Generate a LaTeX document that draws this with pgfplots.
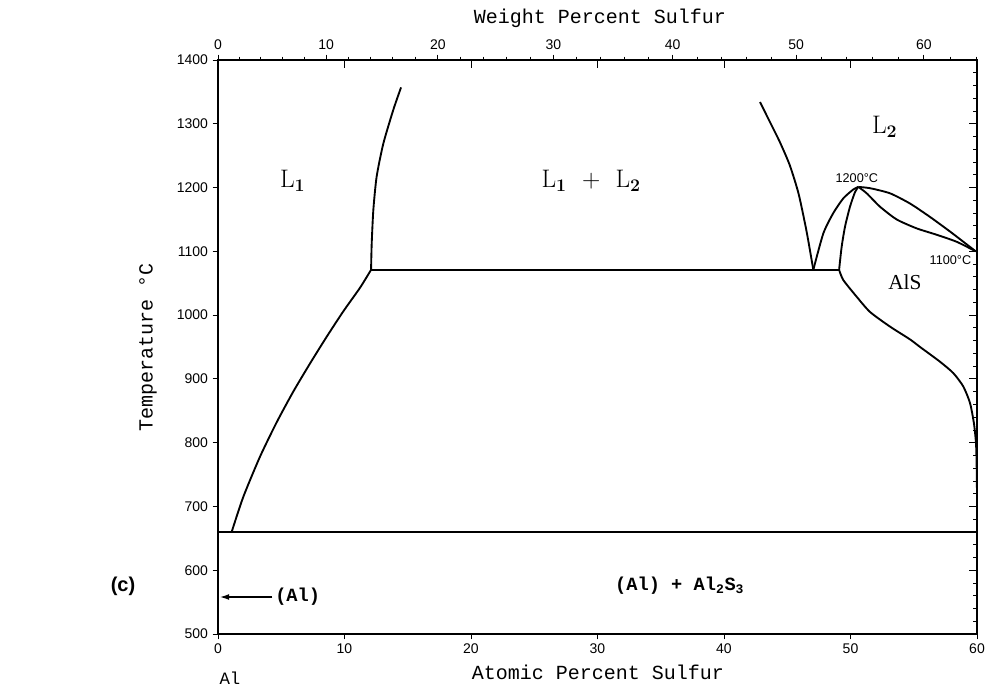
\documentclass[border=0pt]{standalone}
\usepackage{fontspec}
\usepackage{pgfplots}
\pgfplotsset{compat=1.18}
\usetikzlibrary{arrows.meta}
\newfontfamily\tickfont{Liberation Sans}
\newfontfamily\monofont{Liberation Mono}
\newfontfamily\serfont{Liberation Serif}
\pgfplotsset{base/.style={at={(0,0)},anchor=south west,scale only axis,
  width=569.25pt,height=430.5pt,xmin=0,xmax=60,ymin=500,ymax=1400,
  /pgf/number format/assume math mode=true,/pgf/number format/1000 sep={},
  ticklabel style={font=\tickfont\fontsize{10.5}{12}\selectfont},
  tick style={line width=0.6pt,black}},
  ph/.style={black,line width=1.4pt,no markers}}
\begin{document}
\begin{tikzpicture}[x=0.75pt,y=0.75pt]
\path[use as bounding box] (-218,-59) rectangle (775,634);
% minor ticks bottom/left (inside)
\begin{axis}[base,axis line style={draw=none},xtick=\empty,ytick=\empty,
  minor xtick={0,1,...,60},minor ytick={500,510,...,1400},
  tick pos=left,tick align=inside,minor tick length=3pt]
\end{axis}
% right / top inside ticks
\begin{axis}[base,axis line style={draw=none},xtick={10,20,30,40,50},
  ytick={600,700,...,1300},minor ytick={520,540,...,1380},
  xticklabels={},yticklabels={},tick pos=right,tick align=inside,
  major tick length=6pt,minor tick length=3pt]
\end{axis}
% top weight percent axis
\begin{axis}[base,axis line style={draw=none},
  xtick={0,8.551,17.382,26.506,35.940,45.698,55.798},
  xticklabels={0,10,20,30,40,50,60},
  minor xtick={1.688,3.388,5.098,6.819,10.294,12.049,13.815,15.593,19.183,20.996,22.820,24.657,28.368,30.242,32.128,34.028,37.865,39.803,41.755,43.720,47.690,49.695,51.716,53.750,57.860,59.937},
  ytick=\empty,tick pos=right,xticklabel pos=right,tick align=outside,
  major tick length=4pt,minor tick length=2.5pt]
\end{axis}
% main axis
\begin{axis}[base,axis line style={line width=0.9pt},clip=false,
  xtick={0,10,...,60},ytick={500,600,...,1400},
  tick pos=left,tick align=outside,major tick length=4pt]
% (Al) solid solution and eutectic line
\addplot[ph] coordinates {(0,500) (0,660)};
\addplot[ph] coordinates {(0,660) (60,660)};
% L1 liquidus
\addplot[ph,smooth,tension=0.4] coordinates {(1.08,660) (2.0,715) (3.32,778) (4.64,832) (5.95,880) (7.27,924) (8.59,966) (9.91,1006) (11.23,1043) (12.1,1071)};
% monotectic line
\addplot[ph] coordinates {(12.1,1071) (49.1,1071)};
% miscibility gap left branch
\addplot[ph,smooth,tension=0.4] coordinates {(12.1,1071) (12.15,1112) (12.28,1165) (12.54,1217) (13.07,1269) (13.86,1322) (14.47,1357)};
% miscibility gap right branch
\addplot[ph,smooth,tension=0.4] coordinates {(42.85,1334) (43.6,1304) (44.4,1272) (45.2,1235) (45.9,1190) (46.54,1130) (47.06,1071)};
% AlS liquidus (Al side)
\addplot[ph,smooth,tension=0.4] coordinates {(47.06,1071) (47.85,1128) (48.64,1160) (49.43,1183) (50.22,1197) (50.62,1201)};
% AlS solidus (Al side)
\addplot[ph,smooth,tension=0.4] coordinates {(49.1,1071) (49.3,1107) (49.57,1139) (49.96,1170) (50.36,1193) (50.62,1201)};
% S-side liquidus
\addplot[ph,smooth,tension=0.4] coordinates {(50.62,1201) (51.54,1199) (53.12,1191) (54.7,1175) (56.28,1154) (57.87,1131) (58.92,1115) (59.9,1100)};
% S-side solidus
\addplot[ph,smooth,tension=0.4] coordinates {(50.62,1201) (51.28,1191) (52.33,1170) (53.65,1150) (55.23,1136) (56.81,1126) (58.39,1115) (59.9,1100)};
% AlS solvus
\addplot[ph,smooth,tension=0.4] coordinates {(49.1,1071) (49.43,1055) (50.48,1029) (51.54,1005) (53.12,982) (54.7,962) (55.5,950) (57.07,927) (58.13,909) (58.92,888) (59.45,862) (59.76,830) (59.92,799) (59.97,767) (60,720)};
\addplot[ph] coordinates {(60,720) (60,660)};
% arrow to (Al)
\addplot[black,line width=1pt,-{Latex[length=7pt,width=4.5pt]}] coordinates {(4.3,558) (0.15,558)};
% labels
\node[font=\fontsize{19}{21}\selectfont] at (axis cs:5.9,1210) {L\textsubscript{\bfseries 1}};
\node[font=\fontsize{19}{21}\selectfont] at (axis cs:29.5,1210) {L\textsubscript{\bfseries 1}\ \ +\ \ L\textsubscript{\bfseries 2}};
\node[font=\fontsize{19}{21}\selectfont] at (axis cs:52.7,1295) {L\textsubscript{\bfseries 2}};
\node[font=\tickfont\fontsize{9.5}{11}\selectfont] at (axis cs:50.5,1215) {1200\textdegree C};
\node[font=\tickfont\fontsize{9.5}{11}\selectfont] at (axis cs:57.9,1086) {1100\textdegree C};
\node[font=\serfont\fontsize{16}{18}\selectfont] at (axis cs:54.3,1052) {AlS};
\node[font=\monofont\bfseries\fontsize{14}{16}\selectfont,anchor=west,inner sep=1pt] at (axis cs:4.4,558) {(Al)};
\node[font=\monofont\bfseries\fontsize{14}{16}\selectfont] at (axis cs:36.5,575) {(Al) + Al\textsubscript{2}S\textsubscript{3}};
\end{axis}
% axis titles and extra text
\node[font=\monofont\fontsize{15}{17}\selectfont] at (382,616) {Weight Percent Sulfur};
\node[font=\monofont\fontsize{15}{17}\selectfont] at (380,-38) {Atomic Percent Sulfur};
\node[font=\monofont\fontsize{15}{17}\selectfont,rotate=90] at (-70,287) {Temperature \textdegree C};
\node[font=\monofont\fontsize{13}{15}\selectfont] at (12,-44) {Al};
\node[font=\tickfont\bfseries\fontsize{15}{17}\selectfont] at (-95,48) {(c)};
\end{tikzpicture}
\end{document}
